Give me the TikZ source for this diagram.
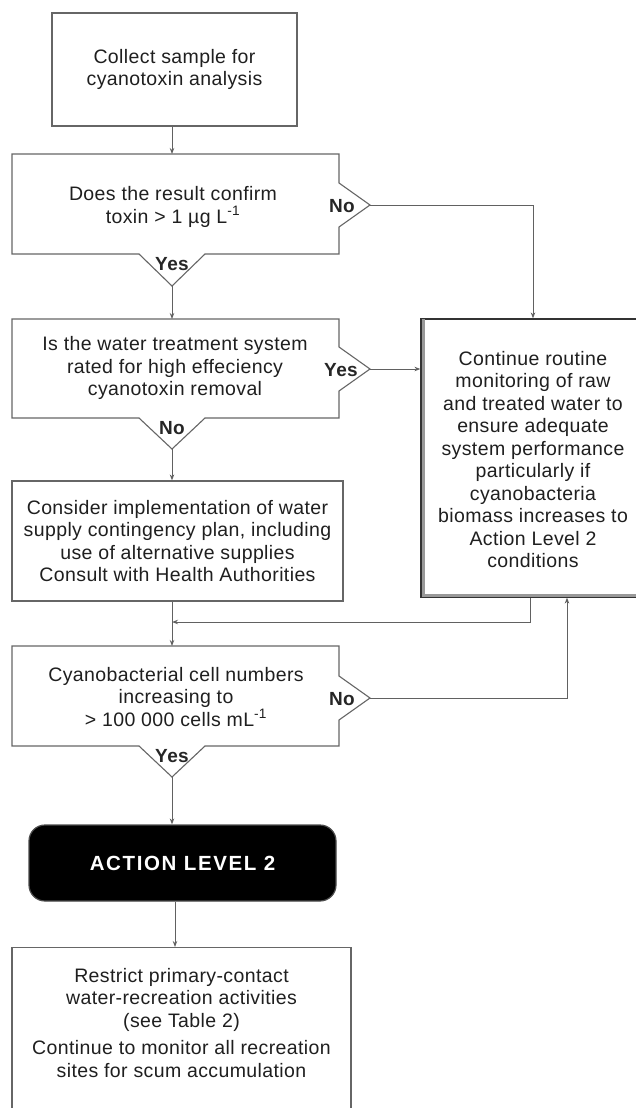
\documentclass[tikz,border=0pt]{standalone}
\usepackage{fontspec}
\setmainfont{Liberation Sans}[LetterSpace=2]
\usetikzlibrary{arrows.meta}
\tikzset{
  ln/.style={draw=black!60, line width=1.1pt},
  arr/.style={draw=black!62, line width=1pt, -{Stealth[length=6pt,width=4.5pt]}},
  txt/.style={align=center, font=\fontsize{19.5}{22.5}\selectfont, text=black!88, inner sep=0pt},
  lbl/.style={font=\fontsize{19}{22}\selectfont\bfseries, text=black!85, inner sep=0pt},
  boxr/.style={draw=black!60, line width=1.2pt, rectangle, inner sep=0pt},
}
\begin{document}
\begin{tikzpicture}[x=1pt,y=-1pt]
\useasboundingbox (0,0) rectangle (636,1108);
\clip (0,0) rectangle (636,1108);
\fill[white] (0,0) rectangle (636,1108);

% Box 1
\node[boxr, txt, minimum width=245pt, minimum height=113pt] (b1) at (174.5,69.5)
  {Collect sample for\\cyanotoxin analysis};

% Decision 1
\draw[ln] (12,154) -- (339,154) -- (339,183) -- (370,205) -- (339,227) -- (339,254)
  -- (205,254) -- (172,286) -- (139,254) -- (12,254) -- cycle;
\coordinate (d1t) at (172,154);
\coordinate (d1r) at (370,205);
\coordinate (d1b) at (172,286);
\node[txt] (d1txt) at (173,207) {Does the result confirm\\toxin > 1 µg L\textsuperscript{-1}};
\node[lbl] (d1no) at (342,206) {No};
\node[lbl] (d1yes) at (172,264) {Yes};

% Decision 2
\draw[ln] (12,319) -- (339,319) -- (339,347) -- (370,369) -- (339,391) -- (339,418)
  -- (205,418) -- (172,449) -- (139,418) -- (12,418) -- cycle;
\coordinate (d2t) at (172,319);
\coordinate (d2r) at (370,369);
\coordinate (d2b) at (172,449);
\node[txt] (d2txt) at (175,368) {Is the water treatment system\\rated for high effeciency\\cyanotoxin removal};
\node[lbl] (d2yes) at (341,370) {Yes};
\node[lbl] (d2no) at (172,428) {No};

% Box 3
\node[boxr, txt, minimum width=331pt, minimum height=120pt] (b3) at (177.5,541)
  {Consider implementation of water\\supply contingency plan, including\\use of alternative supplies\\Consult with Health Authorities};
\draw[draw=black!60, line width=2.6pt] ([yshift=0.8pt]b3.south west) -- ([yshift=0.8pt]b3.south east);

% Right box
\node[draw=black!80, line width=1.2pt, minimum width=224pt, minimum height=278pt, inner sep=0pt] (rb) at (533,458) {};
\draw[draw=black!40, line width=3pt] ([xshift=2.6pt,yshift=-0.6pt]rb.north west) -- ([xshift=2.6pt,yshift=2.6pt]rb.south west) -- ([yshift=2.6pt]rb.south east);
\node[txt] (rbtxt) at (533,459.5) {Continue routine\\monitoring of raw\\and treated water to\\ensure adequate\\system performance\\particularly if\\cyanobacteria\\biomass increases to\\Action Level 2\\conditions};

% Decision 3
\draw[ln] (12,646) -- (339,646) -- (339,676) -- (370,698) -- (339,720) -- (339,746)
  -- (205,746) -- (172,777) -- (139,746) -- (12,746) -- cycle;
\coordinate (d3t) at (172,646);
\coordinate (d3r) at (370,698);
\coordinate (d3b) at (172,777);
\node[txt] (d3txt) at (176,697) {Cyanobacterial cell numbers\\increasing to\\> 100 000 cells mL\textsuperscript{-1}};
\node[lbl] (d3no) at (342,699) {No};
\node[lbl] (d3yes) at (172,756) {Yes};

% Action level 2
\node[fill=black, draw=black!70, line width=1.2pt, rounded corners=16pt, minimum width=307pt, minimum height=76pt,
  text=white, font=\fontsize{20.5}{24}\selectfont\bfseries\addfontfeature{LetterSpace=8}] (al) at (182.5,863) {ACTION LEVEL 2};

% Bottom box
\node[boxr, minimum width=339pt, minimum height=220pt, anchor=north] (bb) at (181.5,947) {};
\node[txt] (bbtxt) at (181.5,1023) {Restrict primary-contact\\water-recreation activities\\(see Table 2)\\[5pt]Continue to monitor all recreation\\sites for scum accumulation};

% Connectors
\coordinate (mg) at (172,622);
\coordinate (mx) at (530,622);
\coordinate (nx) at (567,698);
\coordinate (ax) at (175,0);

\draw[arr] (b1.south -| d1t) -- (d1t);
\draw[arr] (d1b) -- (d2t);
\draw[arr] (d1r) -| (rb.north);
\draw[arr] (d2r) -- (d2r -| rb.west);
\draw[arr] (d2b) -- (d2b |- b3.north);
\draw[arr] (d2b |- b3.south) -- (d3t);
\draw[arr] (mx |- rb.south) -- (mx) -- (mg);
\draw[arr] (d3r) -- (nx) -- (nx |- rb.south);
\draw[arr] (d3b) -- (d3b |- al.north);
\draw[arr] (ax |- al.south) -- (ax |- bb.north);
\end{tikzpicture}
\end{document}
